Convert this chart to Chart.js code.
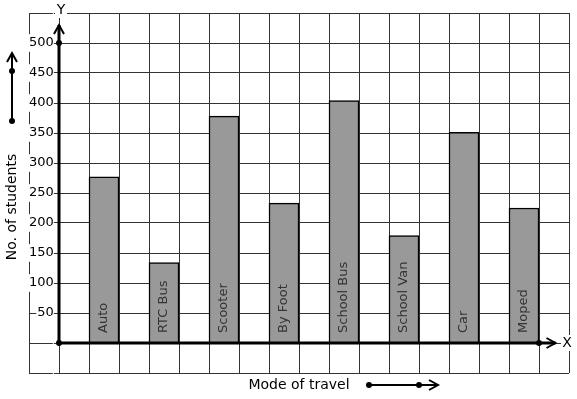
<!DOCTYPE html>
<html>
<head>
<meta charset="utf-8">
<script src="https://cdn.jsdelivr.net/npm/chart.js@4/dist/chart.umd.min.js"></script>
<style>
  body { margin: 0; background: #fff; }
  canvas { display: block; }
</style>
</head>
<body>
<canvas id="travel" width="577" height="399"></canvas>
<script>
// mode of travel vs no. of students
const modes = ['Auto', 'RTC Bus', 'Scooter', 'By Foot', 'School Bus', 'School Van', 'Car', 'Moped'];
const students = [277, 134, 378, 233, 404, 179, 351, 225];
const yTicksShown = [50, 100, 150, 200, 250, 300, 350, 400, 450, 500];

const FONT = 'DejaVu Sans';

// bars sit on every second grid cell, starting one cell right of the y axis
const points = modes.map((m, i) => ({ x: 1.5 + 2 * i, y: students[i] }));

function dot(ctx, x, y) {
    ctx.beginPath();
    ctx.arc(x, y, 3, 0, Math.PI * 2);
    ctx.fill();
}

const extras = {
    id: 'extras',
    afterDatasetsDraw(chart) {
        const ctx = chart.ctx;
        const xs = chart.scales.x;
        const ys = chart.scales.y;
        const x0 = xs.getPixelForValue(0);
        const y0 = ys.getPixelForValue(0);
        ctx.save();
        ctx.strokeStyle = '#000';
        ctx.fillStyle = '#000';
        ctx.lineCap = 'butt';

        // y axis
        const yTop = ys.getPixelForValue(530);
        ctx.lineWidth = 3;
        ctx.beginPath();
        ctx.moveTo(x0, y0);
        ctx.lineTo(x0, yTop);
        ctx.stroke();
        ctx.lineWidth = 2;
        ctx.beginPath();
        ctx.moveTo(x0 - 5, yTop + 9);
        ctx.lineTo(x0, yTop);
        ctx.lineTo(x0 + 5, yTop + 9);
        ctx.stroke();
        dot(ctx, x0, ys.getPixelForValue(500));

        // x axis
        const xEnd = xs.getPixelForValue(16.55);
        ctx.lineWidth = 3;
        ctx.beginPath();
        ctx.moveTo(x0, y0);
        ctx.lineTo(xEnd, y0);
        ctx.stroke();
        ctx.lineWidth = 2;
        ctx.beginPath();
        ctx.moveTo(xEnd - 9, y0 - 5);
        ctx.lineTo(xEnd, y0);
        ctx.lineTo(xEnd - 9, y0 + 5);
        ctx.stroke();
        dot(ctx, xs.getPixelForValue(16), y0);
        dot(ctx, x0, y0);

        // axis letters with white backing
        ctx.font = '14px ' + FONT;
        ctx.textAlign = 'center';
        ctx.textBaseline = 'middle';
        ctx.fillStyle = '#fff';
        ctx.fillRect(x0 - 4, 2, 12, 16);
        ctx.fillRect(561, y0 - 8, 12, 16);
        ctx.fillStyle = '#000';
        ctx.fillText('Y', x0 + 2, 10);
        ctx.fillText('X', 567, y0);

        // labels inside the bars
        ctx.font = '13px ' + FONT;
        ctx.fillStyle = '#333';
        ctx.textAlign = 'left';
        points.forEach((p, i) => {
            ctx.save();
            ctx.translate(xs.getPixelForValue(p.x), y0 - 10);
            ctx.rotate(-Math.PI / 2);
            ctx.fillText(modes[i], 0, 0);
            ctx.restore();
        });

        // axis titles
        ctx.fillStyle = '#000';
        ctx.font = '14px ' + FONT;
        ctx.textAlign = 'center';
        ctx.save();
        ctx.translate(12, 207);
        ctx.rotate(-Math.PI / 2);
        ctx.fillText('No. of students', 0, 0);
        ctx.restore();
        ctx.fillText('Mode of travel', 299, 385);

        // direction arrows next to titles
        ctx.lineWidth = 2;
        ctx.beginPath();
        ctx.moveTo(12, 121);
        ctx.lineTo(12, 53);
        ctx.moveTo(7, 62);
        ctx.lineTo(12, 53);
        ctx.lineTo(17, 62);
        ctx.stroke();
        dot(ctx, 12, 121);
        dot(ctx, 12, 71);

        ctx.beginPath();
        ctx.moveTo(369, 385);
        ctx.lineTo(438, 385);
        ctx.moveTo(429, 380);
        ctx.lineTo(438, 385);
        ctx.lineTo(429, 390);
        ctx.stroke();
        dot(ctx, 369, 385);
        dot(ctx, 419, 385);

        ctx.restore();
    }
};

new Chart(document.getElementById('travel'), {
    type: 'bar',
    data: {
        datasets: [{
            data: points,
            backgroundColor: '#999999',
            borderColor: '#000',
            borderWidth: 1.5,
            barPercentage: 1,
            categoryPercentage: 1,
        }]
    },
    options: {
        responsive: false,
        animation: false,
        devicePixelRatio: 1,
        layout: { padding: { left: 29, right: 8, top: 13, bottom: 26 } },
        plugins: {
            legend: { display: false },
            tooltip: { enabled: false },
        },
        scales: {
            x: {
                type: 'linear',
                min: -1,
                max: 17,
                offset: false,
                ticks: { stepSize: 1, display: false },
                grid: { color: '#333', lineWidth: 1, drawTicks: false, offset: false },
                border: { display: false },
            },
            y: {
                min: -50,
                max: 550,
                ticks: {
                    stepSize: 50,
                    mirror: true,
                    crossAlign: 'far',
                    padding: 0,
                    z: 1,
                    color: '#000',
                    font: { family: FONT, size: 13 },
                    showLabelBackdrop: true,
                    backdropColor: '#fff',
                    backdropPadding: { top: 1, bottom: 1, left: 1, right: 0 },
                    callback: (v) => yTicksShown.includes(v) ? String(v) : '',
                },
                grid: { color: '#333', lineWidth: 1, drawTicks: false },
                border: { display: false },
            }
        }
    },
    plugins: [extras]
});
</script>
</body>
</html>
